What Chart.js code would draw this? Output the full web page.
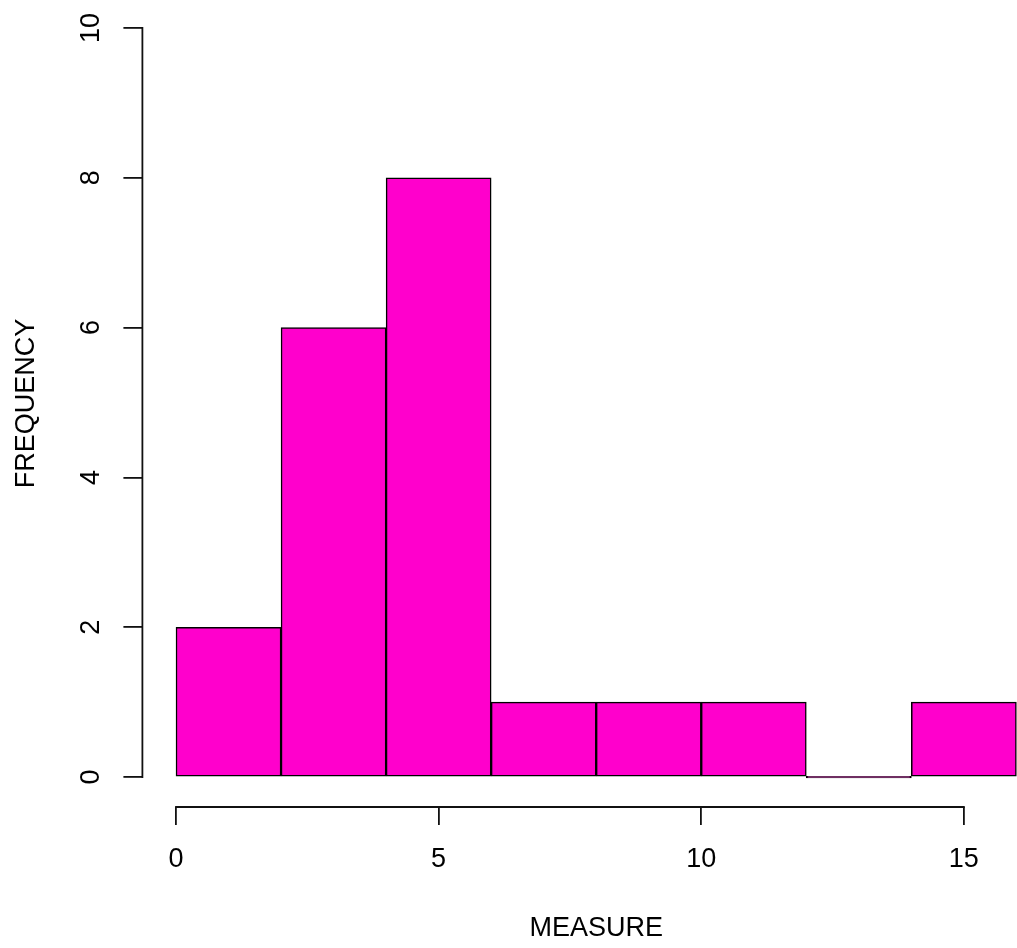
<!DOCTYPE html>
<html>
<head>
<meta charset="utf-8">
<script src="https://cdn.jsdelivr.net/npm/chart.js@4"></script>
<style>
  html, body { margin: 0; padding: 0; background: #fff; overflow: hidden; }
  #outer { position: relative; width: 1017px; height: 948px; overflow: hidden; }
  #wrap { position: absolute; left: 0; top: 0; width: 1050px; height: 948px; }
</style>
</head>
<body>
<div id="outer"><div id="wrap"><canvas id="c"></canvas></div></div>
<script>
// Histogram data
const breaks = [0, 2, 4, 6, 8, 10, 12, 14, 16];
const counts = [2, 6, 8, 1, 1, 1, 0, 1];
const xTicks = [0, 5, 10, 15];
const yTicks = [0, 2, 4, 6, 8, 10];
const xTitle = 'MEASURE';
const yTitle = 'FREQUENCY';

const points = counts.map((c, i) => ({ x: (breaks[i] + breaks[i + 1]) / 2, y: c }));

const FONT = { family: "'Liberation Sans', Arial, sans-serif", size: 27 };

const axisLines = {
  id: 'axisLines',
  afterDraw(chart) {
    const { ctx, scales: { x, y } } = chart;
    ctx.save();
    ctx.strokeStyle = '#111';
    ctx.lineWidth = 1.8;
    ctx.lineCap = 'square';
    ctx.beginPath();
    const yl = y.right;
    ctx.moveTo(yl, y.getPixelForValue(yTicks[0]));
    ctx.lineTo(yl, y.getPixelForValue(yTicks[yTicks.length - 1]));
    const xb = x.top;
    ctx.moveTo(x.getPixelForValue(xTicks[0]), xb);
    ctx.lineTo(x.getPixelForValue(xTicks[xTicks.length - 1]), xb);
    ctx.stroke();
    ctx.restore();
  }
};

new Chart(document.getElementById('c'), {
  type: 'bar',
  data: {
    datasets: [{
      data: points,
      backgroundColor: '#ff00cc',
      borderColor: '#000',
      borderWidth: 1.5,
      borderSkipped: false,
      minBarLength: 1.6,
      barPercentage: 1,
      categoryPercentage: 1
    }]
  },
  options: {
    responsive: true,
    maintainAspectRatio: false,
    animation: false,
    layout: { padding: 0 },
    plugins: { legend: { display: false }, tooltip: { enabled: false } },
    scales: {
      x: {
        type: 'linear',
        min: -0.64,
        max: 16.64,
        offset: false,
        grid: { offset: false, drawOnChartArea: false, drawTicks: true, tickLength: 18, color: '#111', lineWidth: 1.8 },
        border: { display: false },
        afterBuildTicks: s => { s.ticks = xTicks.map(v => ({ value: v })); },
        afterFit: s => { s.height = 141; s.paddingLeft = 0; s.paddingRight = 0; },
        ticks: { color: '#000', font: FONT, padding: 18, maxRotation: 0, minRotation: 0, callback: v => String(v) },
        title: { display: true, text: xTitle, color: '#000', font: FONT, padding: { top: 0, bottom: 3 } }
      },
      y: {
        type: 'linear',
        min: -0.4,
        max: 10.3738,
        grid: { drawOnChartArea: false, drawTicks: true, tickLength: 19, color: '#111', lineWidth: 1.8 },
        border: { display: false },
        afterBuildTicks: s => { s.ticks = yTicks.map(v => ({ value: v })); },
        afterFit: s => { s.width = 142.4; s.paddingTop = 0; s.paddingBottom = 0; },
        ticks: { color: '#000', font: FONT, padding: 16.5, minRotation: 90, maxRotation: 90, crossAlign: 'center', callback: v => String(v) },
        title: { display: true, text: yTitle, color: '#000', font: FONT, padding: { top: 10, bottom: 0 } }
      }
    }
  },
  plugins: [axisLines]
});
</script>
</body>
</html>
